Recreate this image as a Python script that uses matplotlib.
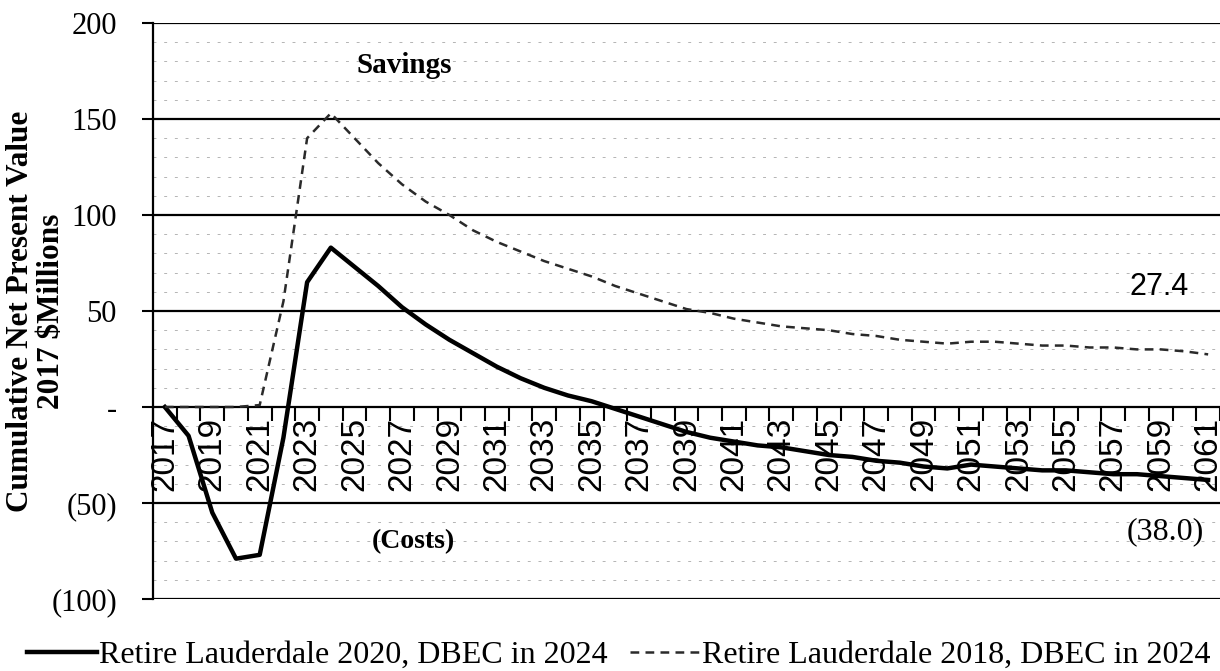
import matplotlib.pyplot as plt
from matplotlib.ticker import FixedLocator, FuncFormatter

years = list(range(2017, 2062))

# Retire Lauderdale 2020, DBEC in 2024 ($M, cumulative NPV)
retire_2020 = [0, -15, -55, -79, -77, -16, 65, 83, 73, 63, 52, 43, 35, 28, 21,
               15, 10, 6, 3, -1, -5, -9, -13, -16, -18, -20, -21, -23, -25, -26,
               -28, -29, -31, -32, -30, -31, -32, -33, -33, -34, -35, -35, -36, -37, -38.0]

# Retire Lauderdale 2018, DBEC in 2024
retire_2018 = [0, 0, 0, 0, 1, 55, 140, 153, 140, 127, 116, 107, 100, 92, 86,
               81, 76, 72, 68, 63, 59, 55, 51, 49, 46, 44, 42, 41, 40, 38,
               37, 35, 34, 33, 34, 34, 33, 32, 32, 31, 31, 30, 30, 29, 27.4]

label_years = years[::2]
y_major = [-100, -50, 0, 50, 100, 150, 200]

serif = 'Liberation Serif'
sans = 'Liberation Sans'

fig = plt.figure(figsize=(12.2, 6.71), dpi=100)
ax = fig.add_axes([153 / 1220, 1 - 599 / 671, 1 - 153 / 1220, (599 - 23) / 671])

x = list(range(len(years)))

# grid: faint dashed lines every 10, solid black every 50
for v in range(-90, 200, 10):
    if v % 50 != 0:
        ax.axhline(v, color='#b4b4b4', lw=0.7, ls=(0, (3, 8)), zorder=1)
for v in y_major:
    if v != 0:
        ax.axhline(v, color='black', lw=1.6, zorder=1)

ax.plot(x, retire_2020, color='black', lw=3.2, zorder=3,
        label='Retire Lauderdale 2020, DBEC in 2024')
ax.plot(x, retire_2018, color='#2a2a2a', lw=1.8, ls=(0, (3.5, 2.5)), zorder=3,
        label='Retire Lauderdale 2018, DBEC in 2024')

ax.set_xlim(-0.5, len(years) - 0.5)
ax.set_ylim(-100, 200)

# x axis sits on zero
ax.spines['bottom'].set_position(('data', 0))
ax.spines['bottom'].set_linewidth(1.6)
ax.spines['top'].set_visible(False)
ax.spines['right'].set_visible(False)
ax.spines['left'].set_linewidth(1.6)

ax.xaxis.set_major_locator(FixedLocator([years.index(yr) for yr in label_years]))
ax.xaxis.set_major_formatter(FuncFormatter(lambda v, p: str(years[int(round(v))])))
ax.xaxis.set_minor_locator(FixedLocator([i - 0.5 for i in range(len(years) + 1)]))
ax.tick_params(axis='x', which='major', length=0, pad=7, labelrotation=90,
               labelsize=24)
ax.tick_params(axis='x', which='minor', length=10, width=1.5, direction='out')
for lbl in ax.get_xticklabels():
    lbl.set_fontfamily(sans)
    lbl.set_va('top')

def yfmt(v, p):
    if v == 0:
        return '-'
    if v < 0:
        return f'({abs(int(v))})'
    return f'{int(v)}'

ax.set_yticks(y_major)
ax.yaxis.set_major_formatter(FuncFormatter(yfmt))
ax.tick_params(axis='y', length=8, width=1.5, pad=18, labelsize=22)
for lbl in ax.get_yticklabels():
    lbl.set_fontfamily(serif)

ax.set_ylabel('Cumulative Net Present Value\n2017 $Millions', fontsize=22.5,
              fontweight='bold', family=serif, linespacing=1.05)
ax.yaxis.set_label_coords(-0.082, 0.5)

ax.text(10.1, 178, 'Savings', ha='center', va='center',
        fontsize=21, fontweight='bold', family=serif)
ax.text(10.5, -70, '(Costs)', ha='center', va='center',
        fontsize=20, fontweight='bold', family=serif)
ax.text(43.2, 62.5, f'{retire_2018[-1]:.1f}', ha='right', va='center',
        fontsize=22, family=sans)
ax.text(43.8, -65, f'({abs(retire_2020[-1]):.1f})', ha='right',
        va='center', fontsize=23, family=serif)

fig.legend(loc='center', bbox_to_anchor=(0.507, 1 - 655 / 671), ncol=2, frameon=False,
           prop={'family': serif, 'size': 23}, handlelength=2.2,
           handletextpad=0.05, columnspacing=0.7, borderpad=0, borderaxespad=0)

fig.savefig('out.png', dpi=100)
